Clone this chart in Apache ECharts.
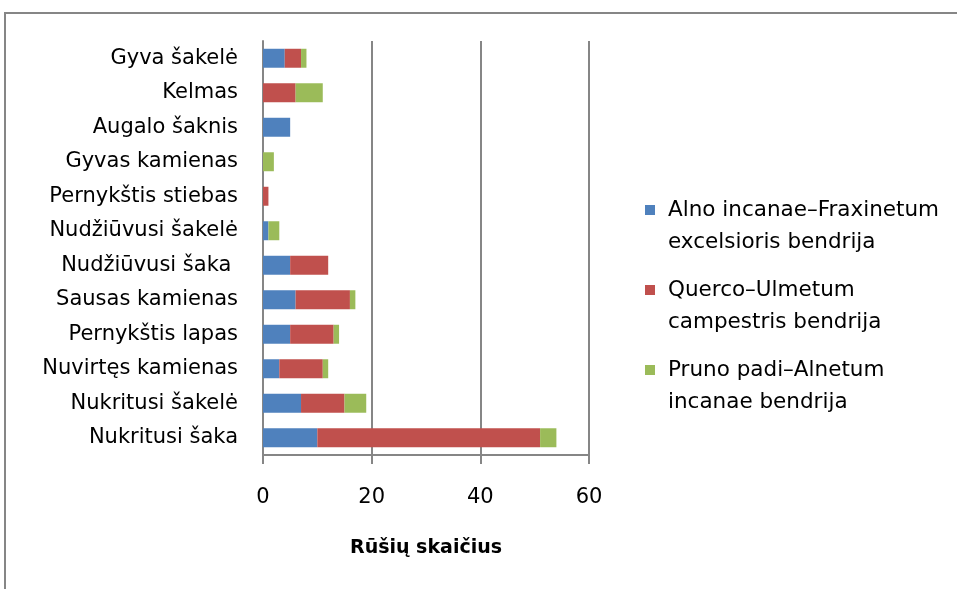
<!DOCTYPE html>
<html>
<head>
    <meta charset="utf-8">
    <title>Rūšių skaičius</title>
    <script src="https://cdn.jsdelivr.net/npm/echarts@6/dist/echarts.min.js"></script>
    <style>
        html, body { margin: 0; padding: 0; background: #fff; }
        #chart1 { width: 957px; height: 589px; }
    </style>
</head>
<body>
<div id="chart1"></div>
<script>
    // substratai (iš viršaus į apačią)
    var categories = ['Gyva šakelė', 'Kelmas', 'Augalo šaknis', 'Gyvas kamienas', 'Pernykštis stiebas',
        'Nudžiūvusi šakelė', 'Nudžiūvusi šaka ', 'Sausas kamienas', 'Pernykštis lapas',
        'Nuvirtęs kamienas', 'Nukritusi šakelė', 'Nukritusi šaka'];
    var seriesNames = ['Alno incanae–Fraxinetum excelsioris bendrija',
        'Querco–Ulmetum campestris bendrija',
        'Pruno padi–Alnetum incanae bendrija'];
    var legendLabels = ['Alno incanae–Fraxinetum\nexcelsioris bendrija',
        'Querco–Ulmetum\ncampestris bendrija',
        'Pruno padi–Alnetum\nincanae bendrija'];
    var alnoValues = [4, 0, 5, 0, 0, 1, 5, 6, 5, 3, 7, 10];
    var quercoValues = [3, 6, 0, 0, 1, 0, 7, 10, 8, 8, 8, 41];
    var prunoValues = [1, 5, 0, 2, 0, 2, 0, 1, 1, 1, 4, 3];
    var xTicks = [0, 20, 40, 60];

    var colors = ['#4F81BD', '#C0504D', '#9BBB59'];
    var font = '"DejaVu Sans", sans-serif';
    // kvadratėlis prie pirmos eilutės (ikonos dėžutė 18x64)
    var legendIcon = 'path://M0,11L10,11L10,21L0,21Z M0,0L0.01,0 M18,64L17.99,64';

    var myChart = echarts.init(document.getElementById('chart1'));
    var data = [alnoValues, quercoValues, prunoValues];

    myChart.setOption({
        animation: false,
        color: colors,
        textStyle: {fontFamily: font},
        graphic: [{
            type: 'rect',
            shape: {x: 5, y: 13, width: 1200, height: 900},
            style: {fill: 'none', stroke: '#868686', lineWidth: 2},
            silent: true
        }],
        grid: {left: 263, right: 368, top: 41, bottom: 134, containLabel: false},
        legend: {
            orient: 'vertical',
            left: 645,
            top: 194,
            padding: 0,
            itemWidth: 18,
            itemHeight: 64,
            itemGap: 16,
            icon: legendIcon,
            data: seriesNames,
            formatter: function (name) {
                return legendLabels[seriesNames.indexOf(name)];
            },
            textStyle: {
                fontFamily: font,
                fontSize: 21.5,
                color: '#000',
                lineHeight: 32
            }
        },
        xAxis: {
            type: 'value',
            min: xTicks[0],
            max: xTicks[xTicks.length - 1],
            interval: xTicks[1] - xTicks[0],
            name: 'Rūšių skaičius',
            nameLocation: 'middle',
            nameGap: 84,
            nameTextStyle: {fontFamily: font, fontSize: 19, fontWeight: 'bold', color: '#000'},
            axisLine: {show: true, lineStyle: {color: '#868686', width: 2}},
            axisTick: {show: true, length: 9, lineStyle: {color: '#868686', width: 2}},
            splitLine: {show: true, lineStyle: {color: '#868686', width: 2}},
            axisLabel: {fontFamily: font, fontSize: 21, color: '#000', margin: 32}
        },
        yAxis: {
            type: 'category',
            inverse: true,
            data: categories,
            axisLine: {show: true, lineStyle: {color: '#868686', width: 2}},
            axisTick: {show: false},
            axisLabel: {fontFamily: font, fontSize: 21, color: '#000', margin: 25}
        },
        series: seriesNames.map(function (name, i) {
            return {
                name: name,
                type: 'bar',
                stack: 'total',
                barCategoryGap: '45%',
                data: data[i]
            };
        })
    });
</script>
</body>
</html>
